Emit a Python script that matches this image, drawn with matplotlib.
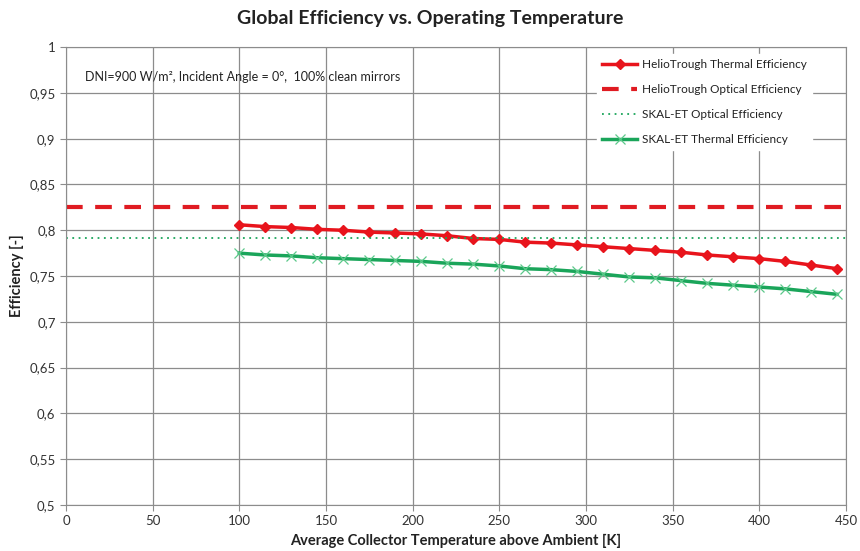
import matplotlib
matplotlib.use("Agg")
import matplotlib.pyplot as plt
from matplotlib.ticker import FuncFormatter

plt.rcParams['font.family'] = ['Lato', 'DejaVu Sans']

temp = [100, 115, 130, 145, 160, 175, 190, 205, 220, 235, 250, 265,
        280, 295, 310, 325, 340, 355, 370, 385, 400, 415, 430, 445]
helio_thermal = [0.806, 0.804, 0.803, 0.801, 0.800, 0.798, 0.797, 0.796,
                 0.794, 0.791, 0.790, 0.787, 0.786, 0.784, 0.782, 0.780,
                 0.778, 0.776, 0.773, 0.771, 0.769, 0.766, 0.762, 0.758]
skal_thermal = [0.775, 0.773, 0.772, 0.770, 0.769, 0.768, 0.767, 0.766,
                0.764, 0.763, 0.761, 0.758, 0.757, 0.755, 0.752, 0.749,
                0.748, 0.745, 0.742, 0.740, 0.738, 0.736, 0.733, 0.730]
helio_optical = 0.825
skal_optical = 0.792
x_full = [0, 450]

fig = plt.figure(figsize=(8.6, 5.51), dpi=100)
ax = fig.add_axes([0.0767, 0.0835, 0.907, 0.831])

ax.plot(temp, helio_thermal, color='#e8141c', lw=2.5, marker='D', ms=5,
        label='HelioTrough Thermal Efficiency')
ax.plot(x_full, [helio_optical] * 2, color='#e01b22', lw=3, ls=(0, (4, 3)),
        label='HelioTrough Optical Efficiency')
ax.plot(x_full, [skal_optical] * 2, color='#1aa55a', lw=1.3, ls=(0, (1, 2.5)),
        label='SKAL-ET Optical Efficiency')
ax.plot(temp, skal_thermal, color='#1aa55a', lw=2.5, marker='x', ms=7,
        mew=0.9, mec='#5cc98a', label='SKAL-ET Thermal Efficiency')

ax.set_xlim(0, 450)
ax.set_ylim(0.5, 1.0)
ax.set_xticks(range(0, 451, 50))
ax.set_yticks([0.5 + 0.05 * i for i in range(11)])
ax.yaxis.set_major_formatter(FuncFormatter(
    lambda v, p: ('%g' % round(v, 2)).replace('.', ',')))
ax.grid(True, color='#8c8c8c', lw=0.9)
ax.set_axisbelow(True)
for s in ax.spines.values():
    s.set_color('#8c8c8c')
ax.tick_params(colors='#8c8c8c', labelcolor='#333333', labelsize=9.5,
               length=4)

ax.set_xlabel('Average Collector Temperature above Ambient [K]',
              fontsize=10.5, fontweight='bold', color='#222222', labelpad=5)
ax.set_ylabel('Efficiency [-]', fontsize=10.5, fontweight='bold',
              color='#222222', labelpad=4)
fig.suptitle('Global Efficiency vs. Operating Temperature', fontsize=14,
             fontweight='bold', color='#222222', y=0.982)

ax.text(0.025, 0.935, 'DNI=900 W/m², Incident Angle = 0°,  100% clean mirrors',
        transform=ax.transAxes, fontsize=9, color='#222222', va='center')

leg = ax.legend(loc='upper right', bbox_to_anchor=(0.962, 0.995), fontsize=8.5,
                frameon=True, edgecolor='white', framealpha=1,
                handlelength=3.0, handletextpad=0.4, labelspacing=1.2,
                borderaxespad=0.4)
for t in leg.get_texts():
    t.set_color('#222222')

fig.savefig('out.png', dpi=100)
